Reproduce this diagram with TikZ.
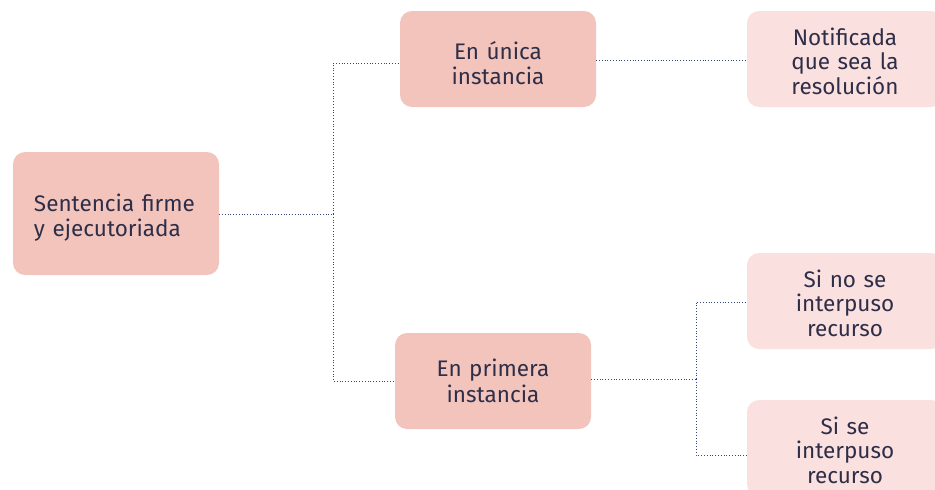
\documentclass[tikz,border=0pt]{standalone}
\usepackage{fontspec}
\setmainfont{Fira Sans}
\definecolor{boxdark}{HTML}{F2C4BC}
\definecolor{boxlight}{HTML}{FAE0DE}
\definecolor{txt}{HTML}{2E2E48}
\definecolor{lnk}{HTML}{2F4A7A}
\tikzset{
  box/.style={rounded corners=12pt, inner sep=0pt, minimum width=196pt, minimum height=96pt},
  dark/.style={box, fill=boxdark},
  light/.style={box, fill=boxlight},
  lbl/.style={align=center, text=txt, inner sep=0pt,
    font=\fontsize{22.5}{24.5}\selectfont, text width=190pt},
  link/.style={draw=lnk, line width=0.8pt, dotted},
}
\begin{document}
\begin{tikzpicture}[x=1pt,y=-1pt]
\useasboundingbox (0,0) rectangle (935,490);
\clip (0,0) rectangle (935,490);
\node[dark, minimum width=206pt, minimum height=123pt] (a) at (116,213.5) {};
\node[dark] (b) at (498,59) {};
\node[light] (c) at (845,59) {};
\node[dark] (d) at (493,381) {};
\node[light] (e) at (845,301) {};
\node[light] (f) at (845,448) {};
\node[lbl, align=left, text width=164pt] (ta) at ([yshift=-4pt]a.center) {Sentencia firme\\y ejecutoriada};
\node[lbl] (tb) at ([yshift=-4pt]b.center) {En única\\instancia};
\node[lbl] (tc) at ([yshift=-2pt]c.center) {Notificada\\que sea la\\resolución};
\node[lbl, font=\fontsize{22.5}{26}\selectfont] (td) at ([yshift=0pt]d.center) {En primera\\instancia};
\node[lbl] (te) at ([yshift=-2pt]e.center) {Si no se\\interpuso\\recurso};
\node[lbl] (tf) at ([yshift=-2pt]f.center) {Si se\\interpuso\\recurso};
\coordinate (j1) at (333,214);
\coordinate (j2) at (696,379);
\draw[link] (a.east |- j1) -- (j1);
\draw[link] (j1) |- (b.west |- 0,63);
\draw[link] (j1) |- (d.west |- 0,381);
\draw[link] (b.east |- 0,60) -- (c.west |- 0,60);
\draw[link] (d.east |- j2) -- (j2);
\draw[link] (j2) |- (e.west |- 0,302);
\draw[link] (j2) |- (f.west |- 0,455);
\end{tikzpicture}
\end{document}
